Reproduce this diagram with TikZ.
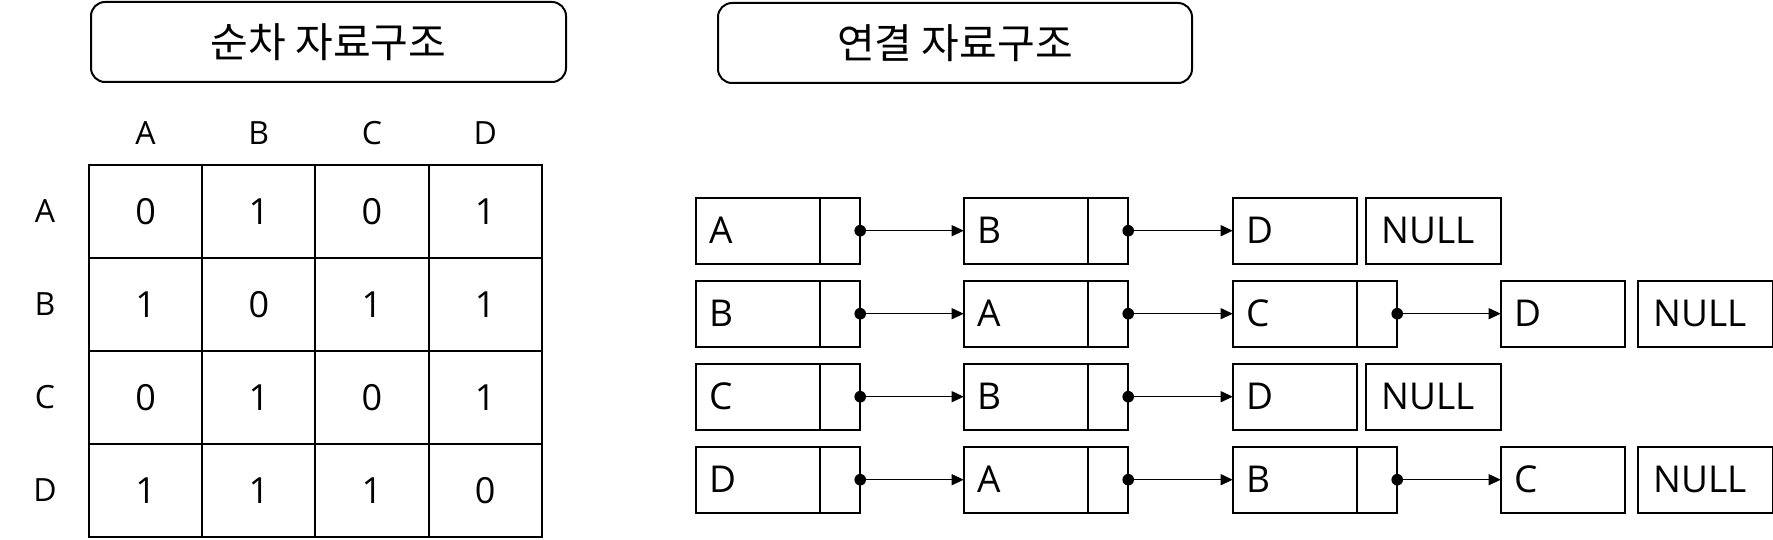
\documentclass[tikz,border=0pt]{standalone}
\usepackage{fontspec}
\setmainfont{Open Sans}
\newfontfamily\kr{Noto Sans CJK KR}
\usetikzlibrary{arrows.meta}
\begin{document}
\begin{tikzpicture}[x=1pt,y=-1pt,
  titlebox/.style={draw,line width=2pt,rounded corners=14pt,minimum width=475pt,minimum height=80pt,inner sep=0pt,font=\kr\fontsize{41}{48}\selectfont},
  cell/.style={draw,line width=2pt,minimum width=113.2pt,minimum height=93pt,inner sep=0pt,outer sep=0pt,font=\fontsize{36}{40}\selectfont},
  lab/.style={inner sep=0pt,font=\fontsize{32}{36}\selectfont},
  dat/.style={draw,line width=2pt,minimum height=66pt,inner xsep=14pt,inner ysep=0pt,outer sep=0pt,text width=96.5pt,align=left,font=\fontsize{37}{40}\selectfont},
  ptr/.style={draw,line width=2pt,minimum width=40pt,minimum height=66pt,inner sep=0pt,outer sep=0pt,anchor=west},
  nul/.style={draw,line width=2pt,minimum height=66pt,inner xsep=16pt,inner ysep=0pt,outer sep=0pt,text width=103pt,align=left,anchor=west,font=\fontsize{37}{40}\selectfont},
  link/.style={line width=1.2pt,-{Triangle[length=12pt,width=11pt]}},
  dotc/.style={fill=black}
]
\useasboundingbox (0,0) rectangle (1773,540);

% titles
\node[titlebox] (t1) at (328.5,42) {순차 자료구조};
\node[titlebox,minimum width=474pt] (t2) at (955,43) {연결 자료구조};

% matrix headers
\node[lab] (h1) at (145.6,133) {A};
\node[lab] (h2) at (258.8,133) {B};
\node[lab] (h3) at (372.0,133) {C};
\node[lab] (h4) at (485.2,133) {D};
\node[lab] (r1) at (45,211.5) {A};
\node[lab] (r2) at (45,304.5) {B};
\node[lab] (r3) at (45,397.5) {C};
\node[lab] (r4) at (45,490.5) {D};

% matrix cells
\node[cell] (m11) at (145.6,211.5) {0};
\node[cell] (m12) at (258.8,211.5) {1};
\node[cell] (m13) at (372.0,211.5) {0};
\node[cell] (m14) at (485.2,211.5) {1};
\node[cell] (m21) at (145.6,304.5) {1};
\node[cell] (m22) at (258.8,304.5) {0};
\node[cell] (m23) at (372.0,304.5) {1};
\node[cell] (m24) at (485.2,304.5) {1};
\node[cell] (m31) at (145.6,397.5) {0};
\node[cell] (m32) at (258.8,397.5) {1};
\node[cell] (m33) at (372.0,397.5) {0};
\node[cell] (m34) at (485.2,397.5) {1};
\node[cell] (m41) at (145.6,490.5) {1};
\node[cell] (m42) at (258.8,490.5) {1};
\node[cell] (m43) at (372.0,490.5) {1};
\node[cell] (m44) at (485.2,490.5) {0};

% row 1: A -> B -> D, NULL
\node[dat] (d11) at (757.95,230.7) {A};
\node[ptr] (p11) at (d11.east) {};
\node[dat] (d12) at (1025.95,230.7) {B};
\node[ptr] (p12) at (d12.east) {};
\node[dat] (d13) at (1294.95,230.7) {D};
\node[nul] (n1) at (1365.7,230.7) {NULL};

% row 2: B -> A -> C -> D, NULL
\node[dat] (d21) at (757.95,313.7) {B};
\node[ptr] (p21) at (d21.east) {};
\node[dat] (d22) at (1025.95,313.7) {A};
\node[ptr] (p22) at (d22.east) {};
\node[dat] (d23) at (1294.95,313.7) {C};
\node[ptr] (p23) at (d23.east) {};
\node[dat] (d24) at (1562.95,313.7) {D};
\node[nul] (n2) at (1637.5,313.7) {NULL};

% row 3: C -> B -> D, NULL
\node[dat] (d31) at (757.95,396.7) {C};
\node[ptr] (p31) at (d31.east) {};
\node[dat] (d32) at (1025.95,396.7) {B};
\node[ptr] (p32) at (d32.east) {};
\node[dat] (d33) at (1294.95,396.7) {D};
\node[nul] (n3) at (1365.7,396.7) {NULL};

% row 4: D -> A -> B -> C, NULL
\node[dat] (d41) at (757.95,479.7) {D};
\node[ptr] (p41) at (d41.east) {};
\node[dat] (d42) at (1025.95,479.7) {A};
\node[ptr] (p42) at (d42.east) {};
\node[dat] (d43) at (1294.95,479.7) {B};
\node[ptr] (p43) at (d43.east) {};
\node[dat] (d44) at (1562.95,479.7) {C};
\node[nul] (n4) at (1637.5,479.7) {NULL};

% links
\foreach \a/\b in {p11/d12,p12/d13,p21/d22,p22/d23,p23/d24,p31/d32,p32/d33,p41/d42,p42/d43,p43/d44}{
  \draw[link] (\a.east) -- (\b.west);
  \fill[dotc] (\a.east) circle (5.8pt);
}
\end{tikzpicture}
\end{document}
